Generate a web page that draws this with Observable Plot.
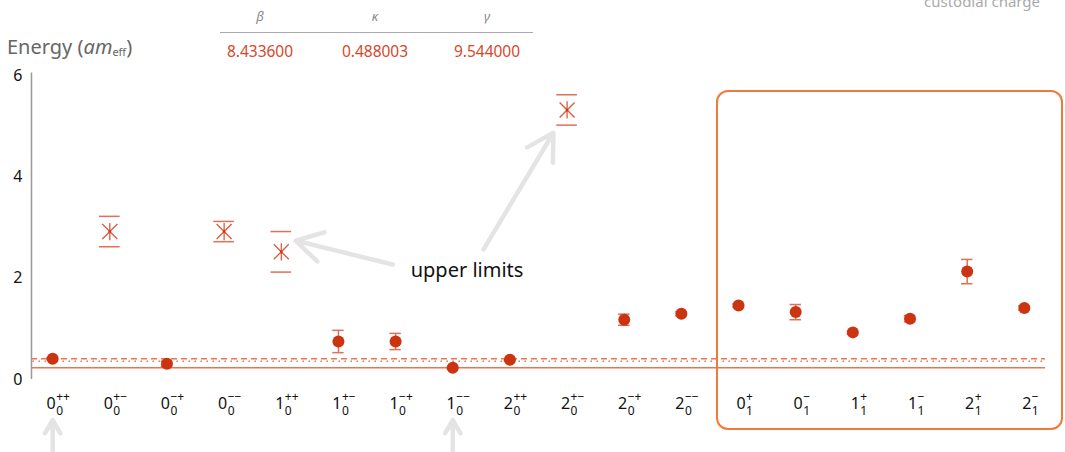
<!DOCTYPE html>
<html><head><meta charset="utf-8">
<script src="https://cdn.jsdelivr.net/npm/d3@7"></script>
<script src="https://cdn.jsdelivr.net/npm/@observablehq/plot@0.6"></script>
<style>
body{margin:0;background:#fff;font-family:"Noto Sans",sans-serif;}
#wrap{position:relative;width:1065px;height:452px;overflow:hidden;}
#wrap svg{position:absolute;left:0;top:0;}
.abs{position:absolute;white-space:nowrap;}
#custodial{left:924px;top:-9px;font-size:15px;color:#aaa;}
#ylabel{left:7px;top:33px;font-size:20px;color:#666;}
#ylabel sub{font-size:11px;vertical-align:-2px;}
.th{font-size:13px;font-style:italic;color:#888;transform:translateX(-50%);top:7px;}
.td{font-size:15.5px;color:#d8472b;transform:translateX(-50%);top:40px;}
#trule{left:220px;top:32px;width:313px;height:0;border-top:1.5px solid #aaa;}
#box{left:716px;top:90px;width:343px;height:336px;border:2.5px solid #f07a3c;border-radius:12px;}
</style></head><body><div id="wrap"></div>
<script>
// ---- data ----
const stateJ      = ["0","0","0","0","1","1","1","1","2","2","2","2","0","0","1","1","2","2"];
const stateParity = ["++","+−","−+","−−","++","+−","−+","−−","++","+−","−+","−−","+","−","+","−","+","−"];
const stateCharge = ["0","0","0","0","0","0","0","0","0","0","0","0","1","1","1","1","1","1"];
const energy      = [0.41,2.92,0.31,2.92,2.52,0.75,0.75,0.23,0.39,5.32,1.18,1.30,1.46,1.33,0.93,1.20,2.13,1.41];
const energyErr   = [0.02,0.30,0.05,0.20,0.40,0.22,0.16,0.02,0.02,0.30,0.11,0.04,0.03,0.15,0.03,0.06,0.24,0.04];
const upperLimit  = [false,true,false,true,true,false,false,false,false,true,false,false,false,false,false,false,false,false];
const refLines    = {solid:0.23, dashed:0.41, dotted:0.36};
const yTicks      = [0,2,4,6];
const paramNames  = ["β","κ","γ"];
const paramValues = ["8.433600","0.488003","9.544000"];
const annotationText = "upper limits";
const arrowsData = [
  {x1:5.95,y1:2.27,x2:4.25,y2:2.74},
  {x1:7.54,y1:2.57,x2:8.76,y2:4.87},
  {x1:0,y1:-1.7,x2:0,y2:-0.8},
  {x1:7,y1:-1.7,x2:7,y2:-0.8}
];
const labelPos = {x:7.25, y:2.15};

// ---- build ----
const rows = stateJ.map((j,i)=>({i, j, par:stateParity[i], q:stateCharge[i], e:energy[i], err:energyErr[i], up:upperLimit[i]}));
const normal = rows.filter(d=>!d.up);
const uppers = rows.filter(d=>d.up);
const red = "#cc3311", light = "#e07058", lineCol = "#ee7350";
const step = 1014/17.74;
const xmark = {draw(ctx,size){const r=Math.sqrt(size/Math.PI);
  ctx.moveTo(-r,-r);ctx.lineTo(r,r);ctx.moveTo(r,-r);ctx.lineTo(-r,r);
  ctx.moveTo(0,-r*1.15);ctx.lineTo(0,r*1.15);}};
const baseEnd = d => d.i + (d.par.length===2 ? 3 : 7)/step;
const supStart = d => d.i + (d.par.length===2 ? 3.5 : 7.5)/step;

const chart = Plot.plot({
  width:1065, height:452,
  marginLeft:31, marginRight:20, marginTop:75, marginBottom:73,
  x:{domain:[-0.37,17.37], axis:null},
  y:{domain:[0,6], axis:null},
  style:{fontFamily:'"Noto Sans",sans-serif', overflow:"visible", background:"transparent"},
  marks:[
    Plot.ruleY([refLines.solid],{stroke:lineCol, strokeWidth:1.5}),
    Plot.ruleY([refLines.dashed],{stroke:lineCol, strokeWidth:1.3, strokeDasharray:"6,4"}),
    Plot.ruleY([refLines.dotted],{stroke:lineCol, strokeWidth:1.3, strokeDasharray:"1.5,4.5", strokeDashoffset:-1.5}),
    Plot.ruleX([-0.37],{y1:0, y2:6.05, stroke:"#999", strokeWidth:1.5}),
    Plot.axisY({ticks:yTicks, tickFormat:d3.format("d"), tickSize:0, tickPadding:9, fontSize:16, color:"#111"}),
    Plot.arrow(arrowsData,{x1:"x1",y1:"y1",x2:"x2",y2:"y2", stroke:"#e4e4e4", strokeWidth:4.5, headLength:10, insetStart:0, insetEnd:0}),
    Plot.text([annotationText],{x:labelPos.x, y:labelPos.y, text:d=>d, fontSize:20, fill:"#111"}),
    Plot.ruleX(normal,{x:"i", y1:d=>d.e-d.err, y2:d=>d.e+d.err, stroke:light, strokeWidth:1.5}),
    Plot.ruleY(normal,{y:d=>d.e-d.err, x1:d=>d.i-0.1, x2:d=>d.i+0.1, stroke:light, strokeWidth:1.5}),
    Plot.ruleY(normal,{y:d=>d.e+d.err, x1:d=>d.i-0.1, x2:d=>d.i+0.1, stroke:light, strokeWidth:1.5}),
    Plot.dot(normal,{x:"i", y:"e", r:6, fill:red}),
    Plot.ruleY(uppers,{y:d=>d.e-d.err, x1:d=>d.i-0.18, x2:d=>d.i+0.18, stroke:light, strokeWidth:1.5}),
    Plot.ruleY(uppers,{y:d=>d.e+d.err, x1:d=>d.i-0.18, x2:d=>d.i+0.18, stroke:light, strokeWidth:1.5}),
    Plot.dot(uppers,{x:"i", y:"e", r:7.5, symbol:xmark, stroke:"#dd5a3e", strokeWidth:1.3, fill:"none"}),
    Plot.dot(uppers,{x:"i", y:"e", r:1.3, fill:red}),
    // tick labels with superscript / subscript
    Plot.text(rows,{x:baseEnd, text:"j", frameAnchor:"bottom", dy:29, textAnchor:"end", fontSize:16, fill:"#111"}),
    Plot.text(rows,{x:supStart, text:"par", frameAnchor:"bottom", dy:21, textAnchor:"start", fontSize:12, fill:"#111"}),
    Plot.text(rows,{x:supStart, text:"q", frameAnchor:"bottom", dy:35, textAnchor:"start", fontSize:12, fill:"#111"})
  ]
});

const wrap = document.getElementById("wrap");
wrap.appendChild(chart);
const add = (id, cls, html, style) => {const el=document.createElement("div"); if(id) el.id=id; el.className="abs "+(cls||""); el.innerHTML=html||""; if(style) Object.assign(el.style,style); wrap.appendChild(el); return el;};
add("custodial","","custodial charge");
add("ylabel","","Energy (<i>am</i><sub>eff</sub>)");
add("trule","");
const colX = [260,375,487];
paramNames.forEach((p,k)=>add(null,"th",p,{left:colX[k]+"px"}));
paramValues.forEach((v,k)=>add(null,"td",v,{left:colX[k]+"px"}));
add("box","");
</script>
</body></html>
